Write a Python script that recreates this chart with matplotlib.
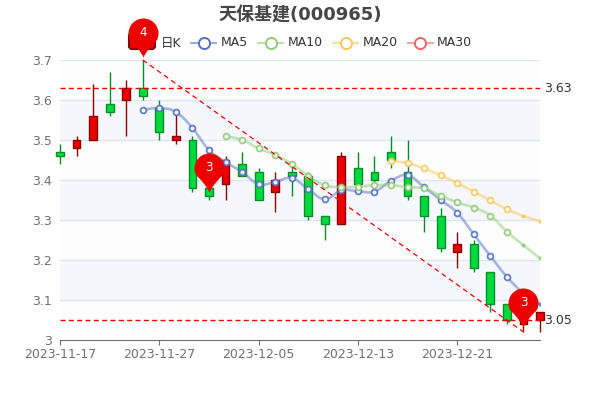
import matplotlib
matplotlib.use('Agg')
import matplotlib.pyplot as plt
from matplotlib.lines import Line2D
from matplotlib.patches import FancyBboxPatch, PathPatch
from matplotlib.path import Path
from matplotlib.transforms import IdentityTransform

plt.rcParams['font.family'] = ['DejaVu Sans', 'Noto Sans CJK SC']

# Data
dates = ['2023-11-17', '2023-11-20', '2023-11-21', '2023-11-22', '2023-11-23', '2023-11-24',
         '2023-11-27', '2023-11-28', '2023-11-29', '2023-11-30', '2023-12-01', '2023-12-04',
         '2023-12-05', '2023-12-06', '2023-12-07', '2023-12-08', '2023-12-11', '2023-12-12',
         '2023-12-13', '2023-12-14', '2023-12-15', '2023-12-18', '2023-12-19', '2023-12-20',
         '2023-12-21', '2023-12-22', '2023-12-25', '2023-12-26', '2023-12-27', '2023-12-28']
opens = [3.47, 3.48, 3.50, 3.59, 3.60, 3.63, 3.58, 3.50, 3.50, 3.38, 3.39, 3.44, 3.42, 3.37, 3.42,
         3.41, 3.31, 3.29, 3.43, 3.42, 3.47, 3.42, 3.36, 3.31, 3.22, 3.24, 3.17, 3.09, 3.04, 3.05]
closes = [3.46, 3.50, 3.56, 3.57, 3.63, 3.61, 3.52, 3.51, 3.38, 3.36, 3.45, 3.41, 3.35, 3.40, 3.41,
          3.31, 3.29, 3.46, 3.39, 3.40, 3.45, 3.36, 3.31, 3.23, 3.24, 3.18, 3.09, 3.05, 3.07, 3.07]
lows = [3.44, 3.46, 3.50, 3.56, 3.51, 3.60, 3.50, 3.49, 3.37, 3.35, 3.35, 3.41, 3.35, 3.32, 3.36,
        3.30, 3.25, 3.29, 3.39, 3.39, 3.43, 3.35, 3.27, 3.22, 3.18, 3.17, 3.07, 3.04, 3.02, 3.02]
highs = [3.49, 3.51, 3.64, 3.67, 3.65, 3.70, 3.60, 3.57, 3.51, 3.41, 3.46, 3.47, 3.43, 3.42, 3.435,
         3.42, 3.31, 3.47, 3.47, 3.46, 3.51, 3.50, 3.36, 3.33, 3.27, 3.25, 3.17, 3.09, 3.09, 3.07]

ma5_start = 5
ma5 = [3.575, 3.58, 3.57, 3.53, 3.475, 3.445, 3.42, 3.39, 3.395, 3.405, 3.377, 3.352, 3.374,
       3.372, 3.371, 3.398, 3.412, 3.382, 3.35, 3.318, 3.264, 3.21, 3.158, 3.117, 3.09]
ma10_start = 10
ma10 = [3.51, 3.50, 3.479, 3.4625, 3.44, 3.41, 3.387, 3.382, 3.383, 3.387, 3.387, 3.382, 3.379,
        3.361, 3.344, 3.331, 3.311, 3.271, 3.237, 3.204]
ma20_start = 20
ma20 = [3.448, 3.442, 3.429, 3.412, 3.392, 3.371, 3.349, 3.327, 3.31, 3.297]

tick_idx = [0, 6, 12, 18, 24]
y_ticks = [3, 3.1, 3.2, 3.3, 3.4, 3.5, 3.6, 3.7]
y_labels = ['3', '3.1', '3.2', '3.3', '3.4', '3.5', '3.6', '3.7']

level_prices = [3.63, 3.05]
level_labels = ['3.63', '3.05']
trend_idx = [5, 28]
trend_prices = [3.70, 3.02]
pin_idx = [5, 9, 28]
pin_prices = [3.708, 3.371, 3.033]
pin_labels = ['4', '3', '3']

RED, RED_EDGE = '#EC0000', '#8A0000'
GREEN, GREEN_EDGE = '#00DA3C', '#008F28'
GREY = '#6E7079'
GRID = '#E0E6F1'
MA_COLORS = ['#5470C6', '#91CC75', '#FAC858', '#EE6666']


def smooth_line(xs, ys, color):
    # bezier curve through the points, same look as a smoothed line
    verts = [(xs[0], ys[0])]
    codes = [Path.MOVETO]
    n = len(xs)
    for i in range(n - 1):
        x0, y0 = xs[max(i - 1, 0)], ys[max(i - 1, 0)]
        x1, y1 = xs[i], ys[i]
        x2, y2 = xs[i + 1], ys[i + 1]
        x3, y3 = xs[min(i + 2, n - 1)], ys[min(i + 2, n - 1)]
        verts += [(x1 + (x2 - x0) * 0.2, y1 + (y2 - y0) * 0.2),
                  (x2 - (x3 - x1) * 0.2, y2 - (y3 - y1) * 0.2),
                  (x2, y2)]
        codes += [Path.CURVE4] * 3
    ax.add_patch(PathPatch(Path(verts, codes), fill=False, edgecolor=color, lw=1.9,
                           alpha=0.5, zorder=4))


def draw_ma(values, start, color, n_small):
    xs = list(range(start, start + len(values)))
    smooth_line(xs, values, color)
    cut = len(values) - n_small
    ax.plot(xs[:cut], values[:cut], ls='none', marker='o', ms=4.2, mfc='white', mec=color,
            mew=1.3, alpha=0.9, zorder=5)
    ax.plot(xs[cut:], values[cut:], ls='none', marker='o', ms=2.4, mfc=color, mec=color,
            mew=0.4, alpha=0.9, zorder=5)


fig = plt.figure(figsize=(6, 4), dpi=100)
ax = fig.add_axes([0.1, 0.15, 0.8, 0.7])
ax.set_zorder(5)
ax.set_xlim(0, len(dates) - 1)
ax.set_ylim(3, 3.7)
ax.patch.set_alpha(0)

# alternating bands and grid
for i in range(len(y_ticks) - 1):
    ax.axhspan(y_ticks[i], y_ticks[i + 1], color='#F6F7FC' if i % 2 else '#FDFDFD', lw=0, zorder=0)
for t in y_ticks[1:]:
    ax.axhline(t, color=GRID, lw=1, zorder=1)

# candles
for i in range(len(dates)):
    up = closes[i] >= opens[i]
    ax.vlines(i, lows[i], highs[i], color=RED_EDGE if up else GREEN_EDGE, lw=1, zorder=2, clip_on=False)
    ax.bar(i, abs(closes[i] - opens[i]), bottom=min(opens[i], closes[i]), width=0.47,
           color=RED if up else GREEN, edgecolor=RED_EDGE if up else GREEN_EDGE, lw=1,
           zorder=3, clip_on=False)

draw_ma(ma5, ma5_start, MA_COLORS[0], 1)
draw_ma(ma10, ma10_start, MA_COLORS[1], 2)
draw_ma(ma20, ma20_start, MA_COLORS[2], 2)

# mark lines
for price, label in zip(level_prices, level_labels):
    ax.axhline(price, color='#F00000', lw=1.0, ls=(0, (3.6, 2.4)), zorder=6)
    ax.annotate(label, (1, price), xycoords=('axes fraction', 'data'), xytext=(3.2, 0),
                textcoords='offset points', va='center', ha='left', fontsize=9, color='#333333',
                annotation_clip=False)
ax.plot(trend_idx, trend_prices, color='#F00000', lw=0.9, ls=(0, (4, 3)), zorder=6, clip_on=False)

# pins, tip sits on the price
arc = Path.arc(-25, 205)
pin_verts = [(vx * 15, vy * 15 + 24) for vx, vy in arc.vertices]
pin_verts += [(-3.5, 8), (0, 0), (3.5, 8), pin_verts[0], pin_verts[0]]
pin_codes = list(arc.codes) + [Path.CURVE3, Path.CURVE3, Path.CURVE3, Path.CURVE3, Path.CLOSEPOLY]
pin = Path(pin_verts, pin_codes)
ax.scatter(pin_idx, pin_prices, marker=pin, s=3154, color=RED, lw=0, zorder=8, clip_on=False)
for x, price, label in zip(pin_idx, pin_prices, pin_labels):
    ax.annotate(label, (x, price), xytext=(0, 17.3), textcoords='offset points', ha='center',
                va='center', color='white', fontsize=8.6, zorder=9, annotation_clip=False)

# axes
for side in ['top', 'left', 'right']:
    ax.spines[side].set_visible(False)
ax.spines['bottom'].set_color(GREY)
ax.spines['bottom'].set_zorder(7)
ax.set_xticks(tick_idx)
ax.set_xticklabels([dates[i] for i in tick_idx])
ax.set_yticks(y_ticks)
ax.set_yticklabels(y_labels)
ax.tick_params(axis='x', colors=GREY, labelsize=9, length=3.6, width=0.8, pad=2.4)
ax.tick_params(axis='y', colors=GREY, labelsize=9, length=0, pad=5.8)

# title and legend, placed in pixels
fig.text(0.5, 1 - 15.5 / 400, '天保基建(000965)', ha='center', va='center', fontsize=13,
         fontweight='bold', color='#464646')
fig.add_artist(FancyBboxPatch((129, 351), 26, 16, boxstyle='round,pad=0,rounding_size=3',
                              fc=RED, ec=RED_EDGE, lw=1.5, transform=IdentityTransform()))
fig.text(160.7 / 600, 1 - 43 / 400, '日K', va='center', fontsize=9, color='#333333')
legend_items = [('MA5', 191, 221), ('MA10', 258, 288), ('MA20', 333, 362.5), ('MA30', 407.5, 437)]
for (name, lx, tx), color in zip(legend_items, MA_COLORS):
    yy = 1 - 43 / 400
    fig.add_artist(Line2D([lx / 600, (lx + 25) / 600], [yy, yy], color=color, lw=1.4, alpha=0.6,
                          transform=fig.transFigure))
    fig.add_artist(Line2D([(lx + 12.5) / 600], [yy], marker='o', ms=8, mfc='white', mec=color,
                          mew=1.4, ls='none', transform=fig.transFigure))
    fig.text(tx / 600, yy, name, va='center', fontsize=9, color='#333333')

plt.savefig('out.png')
